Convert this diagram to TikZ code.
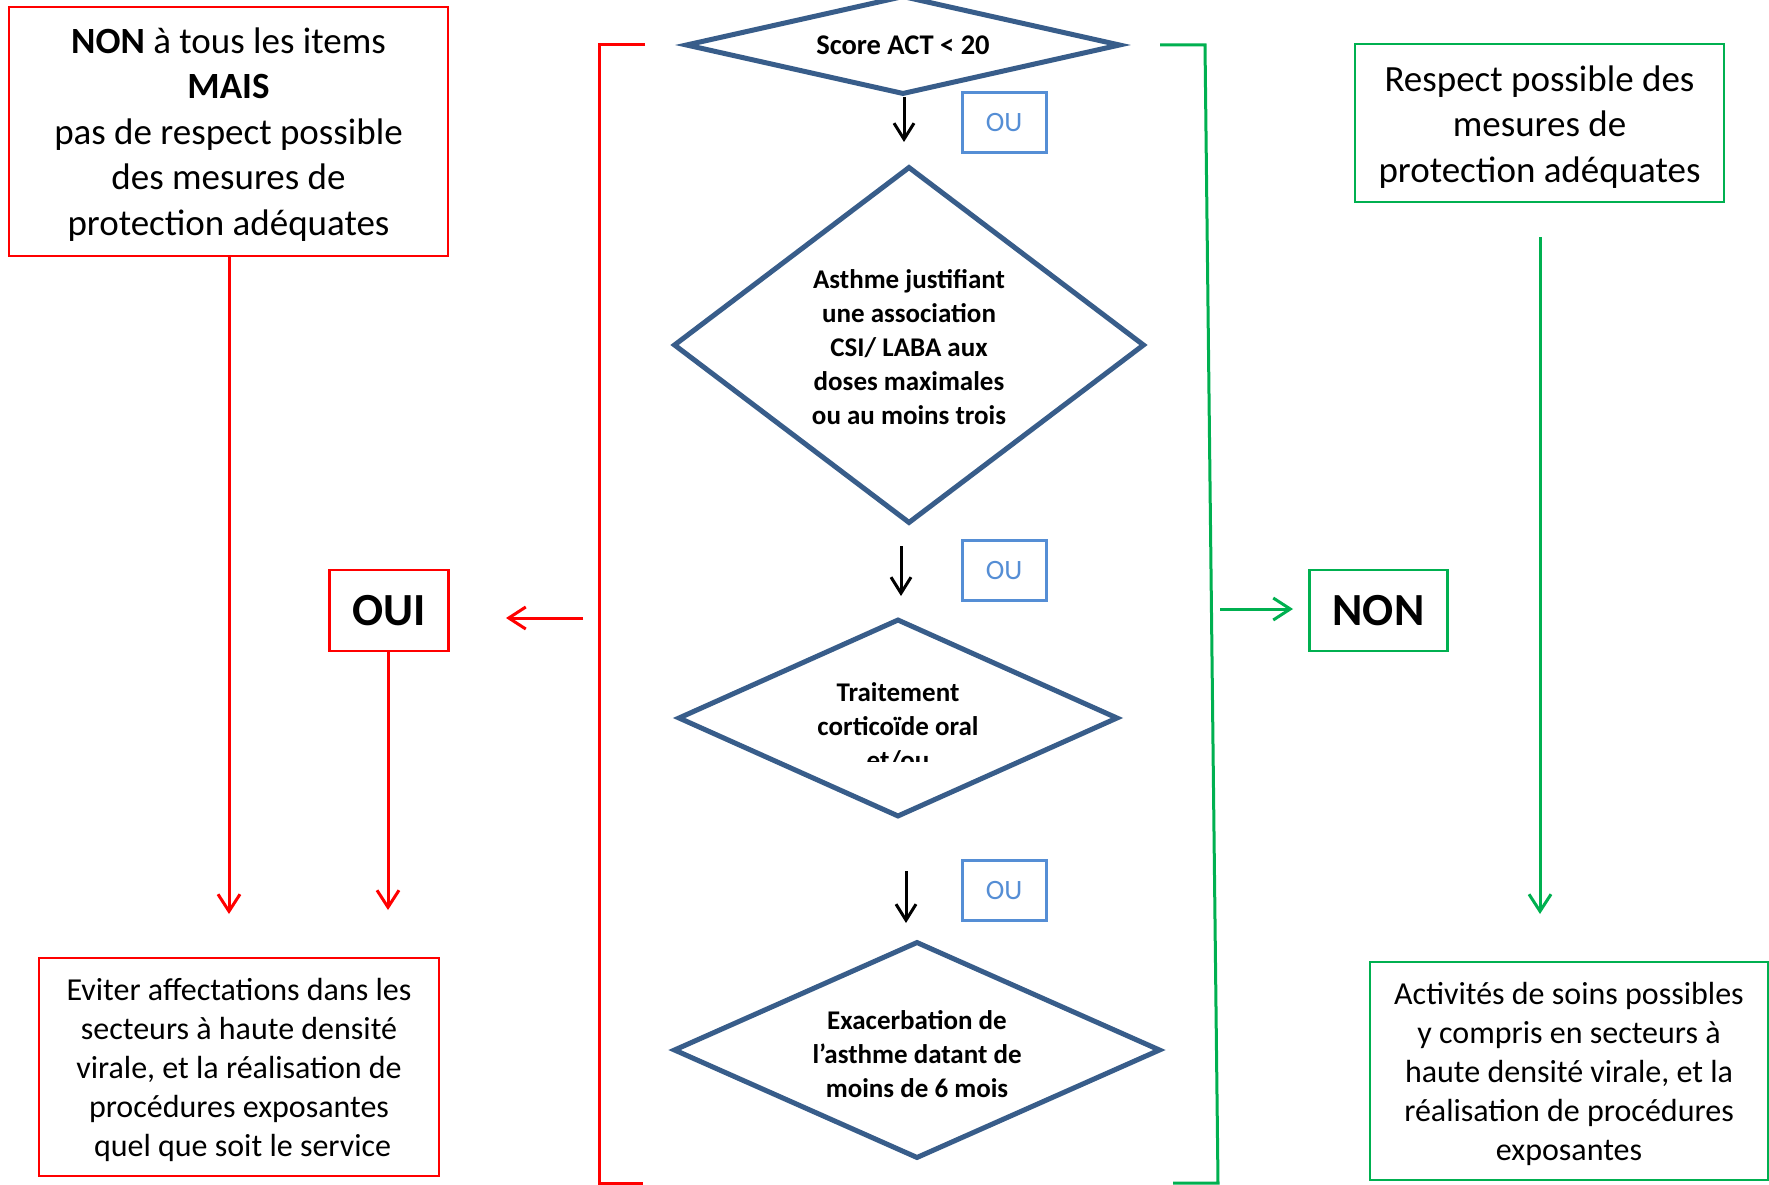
\documentclass[tikz,border=0pt]{standalone}
\usepackage{fontspec}
\setmainfont{Carlito}
\usetikzlibrary{arrows.meta,shapes.geometric}
\definecolor{dblue}{RGB}{56,93,138}
\definecolor{oublue}{RGB}{85,142,213}
\definecolor{myred}{RGB}{255,0,0}
\definecolor{mygreen}{RGB}{0,176,80}
\begin{document}
\begin{tikzpicture}[x=1pt,y=-1pt,
  redbox/.style={draw=myred,line width=2.5pt,inner sep=0pt,align=center},
  greenbox/.style={draw=mygreen,line width=2.5pt,inner sep=0pt,align=center},
  boxtext/.style={inner sep=0pt,align=center},
  oubox/.style={draw=oublue,line width=3pt,inner sep=0pt,minimum width=84pt,minimum height=60pt,text=oublue,font=\fontsize{28}{34}\selectfont},
  dia/.style={diamond,draw=dblue,line width=5pt,inner sep=0pt,aspect=1},
  diatext/.style={align=center,font=\bfseries\fontsize{27}{34}\selectfont,inner sep=0pt},
  bigtext/.style={font=\fontsize{37}{45.4}\selectfont},
  midtext/.style={font=\fontsize{32}{39}\selectfont},
  yesno/.style={font=\bfseries\fontsize{46}{50}\selectfont},
  redarrow/.style={draw=myred,line width=3pt,-{Straight Barb[length=17pt,width=22pt,line width=3pt]}},
  greenarrow/.style={draw=mygreen,line width=3pt,-{Straight Barb[length=17pt,width=22pt,line width=3pt]}},
  blackarrow/.style={draw=black,line width=3pt,-{Straight Barb[length=16pt,width=20pt,line width=3pt]}},
  redline/.style={draw=myred,line width=3pt},
  greenline/.style={draw=mygreen,line width=3pt}]
\useasboundingbox (0,0) rectangle (1769,1185);
\fill[white] (0,0) rectangle (1769,1185);

% left boxes
\node[redbox,minimum width=439pt,minimum height=249pt] (tl) at (228.5,131.5) {};
\node[boxtext,bigtext] (tlt) at (228.5,134.5)
  {\textbf{NON} à tous les items\\ \textbf{MAIS}\\ pas de respect possible\\ des mesures de\\ protection adéquates};
\node[redbox,yesno,minimum width=119pt,minimum height=81pt] (oui) at (389,610.5) {OUI};
\node[redbox,minimum width=400pt,minimum height=218pt] (bl) at (239,1067) {};
\node[boxtext,midtext] (blt) at (239,1070)
  {Eviter affectations dans les\\ secteurs à haute densité\\ virale, et la réalisation de\\ procédures exposantes\\ \ quel que soit le service};

% right boxes
\node[greenbox,minimum width=369pt,minimum height=158pt] (tr) at (1539.5,123) {};
\node[boxtext,bigtext] (trt) at (1539.5,127)
  {Respect possible des\\ mesures de\\ protection adéquates};
\node[greenbox,yesno,minimum width=138pt,minimum height=81pt] (non) at (1378.5,610.5) {NON};
\node[greenbox,minimum width=398pt,minimum height=218pt] (br) at (1569,1071) {};
\node[boxtext,midtext] (brt) at (1569,1074)
  {Activités de soins possibles\\ y compris en secteurs à\\ haute densité virale, et la\\ réalisation de procédures\\ exposantes};

% diamonds
\node[dia,minimum width=435pt,minimum height=99pt] (d1) at (903,45) {};
\node[diatext,font=\bfseries\fontsize{28.5}{34}\selectfont] (t1) at (903,45) {Score ACT < 20};
\node[dia,minimum width=471pt,minimum height=357pt] (d2) at (909,345) {};
\node[diatext] (t2) at (909,347) {Asthme justifiant\\ une association\\ CSI/ LABA aux\\ doses maximales\\ ou au moins trois};
\node[dia,minimum width=440pt,minimum height=198pt] (d3) at (898,718) {};
\begin{scope}
\clip (600,600) rectangle (1200,761);
\node[diatext] (t3) at (898,727) {Traitement\\ corticoïde oral\\ et/ou};
\end{scope}
\node[dia,minimum width=487pt,minimum height=217pt] (d4) at (917,1050) {};
\node[diatext] (t4) at (917,1054) {Exacerbation de\\ l’asthme datant de\\ moins de 6 mois};

% OU boxes
\node[oubox] (ou1) at (1004,123) {OU};
\node[oubox] (ou2) at (1004,570.5) {OU};
\node[oubox] (ou3) at (1004,890.5) {OU};

% black arrows
\coordinate (a1e) at (904,142);
\coordinate (a2s) at (901,546);
\coordinate (a2e) at (901,596);
\coordinate (a3s) at (906,871);
\coordinate (a3e) at (906,923);
\draw[blackarrow] (d1.south -| a1e) -- (a1e);
\draw[blackarrow] (a2s) -- (a2e);
\draw[blackarrow] (a3s) -- (a3e);

% brackets
\coordinate (rb1) at (645,45);
\coordinate (rb2) at (599,45);
\coordinate (rb3) at (599,1183);
\coordinate (rb4) at (643,1183);
\draw[redline] (rb1) -- (rb2) -- (rb3) -- (rb4);
\coordinate (gb1) at (1160,45);
\coordinate (gb2) at (1205,45);
\coordinate (gb3) at (1218,1183);
\coordinate (gb4) at (1173,1183);
\draw[greenline] (gb1) -- (gb2) -- (gb3) -- (gb4);

% red arrows
\coordinate (r1e) at (229,914);
\coordinate (r2e) at (388,910);
\coordinate (rhs) at (583,618);
\coordinate (rhe) at (506,618);
\draw[redarrow] (tl.south -| r1e) -- (r1e);
\draw[redarrow] (oui.south -| r2e) -- (r2e);
\draw[redarrow] (rhs) -- (rhe);

% green arrows
\coordinate (ghs) at (1220,609);
\coordinate (ghe) at (1293,609);
\coordinate (gvs) at (1540,237);
\coordinate (gve) at (1540,914);
\draw[greenarrow] (ghs) -- (ghe);
\draw[greenarrow] (gvs) -- (gve);
\end{tikzpicture}
\end{document}
